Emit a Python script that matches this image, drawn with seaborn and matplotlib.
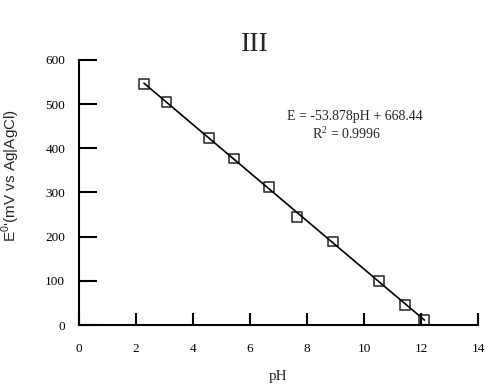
import matplotlib
matplotlib.use("Agg")
import matplotlib.pyplot as plt
import seaborn as sns
import pandas as pd

ph = [2.28, 3.07, 4.56, 5.45, 6.68, 7.66, 8.92, 10.53, 11.44, 12.12]
potential = [545, 505, 424, 377, 312, 245, 189, 100, 45, 12]
x_ticks = [0, 2, 4, 6, 8, 10, 12, 14]
y_ticks = [0, 100, 200, 300, 400, 500, 600]
title = "III"
eq_text = "E = -53.878pH + 668.44"
r2_text = "R$^2$ = 0.9996"

sns.set_theme(style="white")
plt.rcParams['font.family'] = ['Liberation Serif', 'DejaVu Serif']
plt.rcParams['mathtext.fontset'] = 'custom'
plt.rcParams['mathtext.rm'] = 'Liberation Serif'
plt.rcParams['mathtext.sf'] = 'Liberation Sans'

df = pd.DataFrame({"pH": ph, "E": potential})

fig = plt.figure(figsize=(4.86, 3.86), dpi=100)
ax = fig.add_axes([0.1626, 0.158, 0.8209, 0.6866])

sns.regplot(data=df, x="pH", y="E", ax=ax, ci=None,
            marker="s",
            scatter_kws=dict(s=50, facecolors="none", edgecolors="black", linewidths=1.2, zorder=3),
            line_kws=dict(color="black", lw=1.2))

ax.set_xlim(0, 14)
ax.set_ylim(0, 600)
ax.set_xticks(x_ticks)
ax.set_yticks(y_ticks)
ax.set_xticklabels([str(v) for v in x_ticks])
ax.set_yticklabels([str(v) for v in y_ticks])

for s in ["top", "right"]:
    ax.spines[s].set_visible(False)
for s in ["left", "bottom"]:
    ax.spines[s].set_color("black")
    ax.spines[s].set_linewidth(1.5)

ax.tick_params(axis="y", direction="in", length=13, width=1.5, labelsize=9.5, pad=10, colors="black")
ax.tick_params(axis="x", direction="in", length=9, width=1.5, labelsize=9.5, pad=13, colors="black")
ax.tick_params(left=True, bottom=True)

ax.set_xlabel("pH", fontsize=11)
ax.xaxis.set_label_coords(0.5, -0.17)
ax.set_ylabel("$\\mathsf{E}^{\\mathsf{0}}$'(mV vs Ag|AgCl)", fontsize=11,
              family=['Liberation Sans', 'DejaVu Sans'])
ax.yaxis.set_label_coords(-0.143, 0.566)

fig.text(0.525, 0.885, title, ha="center", va="center", fontsize=20)
ax.text(9.68, 471, eq_text, ha="center", va="center", fontsize=10)
ax.text(9.4, 432, r2_text, ha="center", va="center", fontsize=10)

fig.savefig("out.png", dpi=100)
